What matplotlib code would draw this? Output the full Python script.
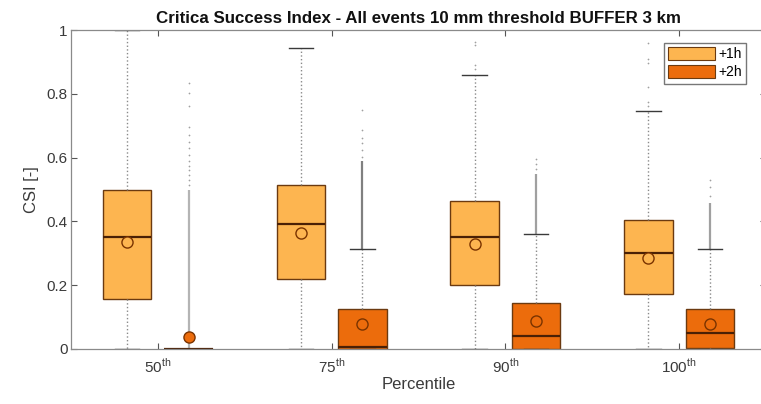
import matplotlib
matplotlib.use("Agg")
import matplotlib.pyplot as plt
from matplotlib.patches import Patch

plt.rcParams["font.family"] = ["Liberation Sans", "DejaVu Sans"]
plt.rcParams["mathtext.fontset"] = "custom"
plt.rcParams["mathtext.rm"] = "Liberation Sans"

percentiles = ["50", "75", "90", "100"]
series = ["+1h", "+2h"]

# box statistics per percentile, one list per lead time
q1_1h = [0.156, 0.219, 0.200, 0.172]
med_1h = [0.351, 0.391, 0.351, 0.300]
q3_1h = [0.497, 0.514, 0.463, 0.403]
mean_1h = [0.335, 0.364, 0.330, 0.286]
wlo_1h = [0.0, 0.0, 0.0, 0.0]
whi_1h = [1.0, 0.945, 0.858, 0.747]

q1_2h = [0.0, 0.0, 0.0, 0.003]
med_2h = [0.0, 0.007, 0.041, 0.049]
q3_2h = [0.0, 0.125, 0.143, 0.126]
mean_2h = [0.037, 0.079, 0.088, 0.079]
wlo_2h = [0.0, 0.0, 0.0, 0.0]
whi_2h = [0.0, 0.313, 0.360, 0.313]

# isolated outliers
fliers_1h = [
    [],
    [],
    [0.963, 0.953, 0.890, 0.878],
    [0.960, 0.908, 0.897, 0.822, 0.775, 0.762],
]
fliers_2h = [
    [0.835, 0.804, 0.762, 0.697, 0.671, 0.650, 0.630, 0.608, 0.590,
     0.575, 0.560, 0.545, 0.530, 0.515],
    [0.749, 0.687, 0.660, 0.646, 0.624, 0.602],
    [0.595, 0.580, 0.565],
    [0.530, 0.508, 0.480],
]
# ranges where the outliers are packed into a continuous run
dense_2h = [(0.0, 0.50), (0.313, 0.59), (0.360, 0.55), (0.313, 0.457)]
dense_color = ["#b4b4b4", "#808080", "#a0a0a0", "#a0a0a0"]

colors = ["#FDB550", "#EC6C0C"]
edge = "#6b3a10"
offset = 0.177
width = 0.28

fig = plt.figure(figsize=(7.61, 4.04), dpi=100)
ax = fig.add_axes([71 / 761, 55 / 404, 695 / 761, 319 / 404])

groups = [
    (q1_1h, med_1h, q3_1h, mean_1h, wlo_1h, whi_1h, fliers_1h),
    (q1_2h, med_2h, q3_2h, mean_2h, wlo_2h, whi_2h, fliers_2h),
]
for k, (q1, med, q3, mn, wlo, whi, fl) in enumerate(groups):
    stats = []
    for i in range(len(percentiles)):
        stats.append(dict(q1=q1[i], med=med[i], q3=q3[i], mean=mn[i],
                          whislo=wlo[i], whishi=whi[i], fliers=fl[i]))
    pos = [i + 1 + (2 * k - 1) * offset for i in range(len(percentiles))]
    if k == 1:
        for p, (lo, hi), c in zip(pos, dense_2h, dense_color):
            ax.vlines(p, lo, hi, color=c, lw=1.6, zorder=1)
    ax.bxp(stats, positions=pos, widths=width, capwidths=width / 2,
           patch_artist=True, showmeans=True, manage_ticks=False,
           boxprops=dict(facecolor=colors[k], edgecolor=edge, lw=1.0),
           medianprops=dict(color="#4a2005", lw=1.6),
           whiskerprops=dict(color="#8a8a8a", ls=":", lw=1.0),
           capprops=dict(color="#3a3a3a", lw=1.0),
           meanprops=dict(marker="o", markersize=8, markerfacecolor=colors[k],
                          markeredgecolor="#7a3300", markeredgewidth=1.0),
           flierprops=dict(marker=".", markersize=2.5, color="#a0a0a0",
                           markerfacecolor="#a0a0a0", markeredgecolor="none"),
           zorder=2)

ax.set_xlim(0.5, 4.5)
ax.set_ylim(0, 1)
ax.set_xticks(range(1, len(percentiles) + 1))
ax.set_xticklabels([p + r"$^{\mathrm{th}}$" for p in percentiles])
ax.set_yticks([0, 0.2, 0.4, 0.6, 0.8, 1])
ax.set_yticklabels(["0", "0.2", "0.4", "0.6", "0.8", "1"])
ax.tick_params(direction="in", length=4, width=0.8, color="#555555",
               labelcolor="#3a3a3a", labelsize=11, top=True, right=True)
ax.tick_params(axis="x", pad=6)
ax.tick_params(axis="y", pad=2.5)
for s in ax.spines.values():
    s.set_color("#8a8a8a")
    s.set_linewidth(0.9)

ax.set_title("Critica Success Index - All events 10 mm threshold BUFFER 3 km",
             fontsize=12.2, fontweight="bold", color="#111111", pad=5)
ax.set_xlabel("Percentile", fontsize=12, color="#3a3a3a", labelpad=1)
ax.set_ylabel("CSI [-]", fontsize=12, color="#3a3a3a", labelpad=5)

handles = [Patch(facecolor=c, edgecolor=edge, lw=0.8) for c in colors]
ax.legend(handles, series, loc="upper right", bbox_to_anchor=(746 / 761, 361 / 404),
          bbox_transform=fig.transFigure, borderaxespad=0, fontsize=10,
          frameon=True, fancybox=False, edgecolor="#777777", framealpha=1,
          handlelength=3.4, handleheight=1.0, handletextpad=0.2,
          labelspacing=0.3, borderpad=0.3)

fig.savefig("out.png", dpi=100)
